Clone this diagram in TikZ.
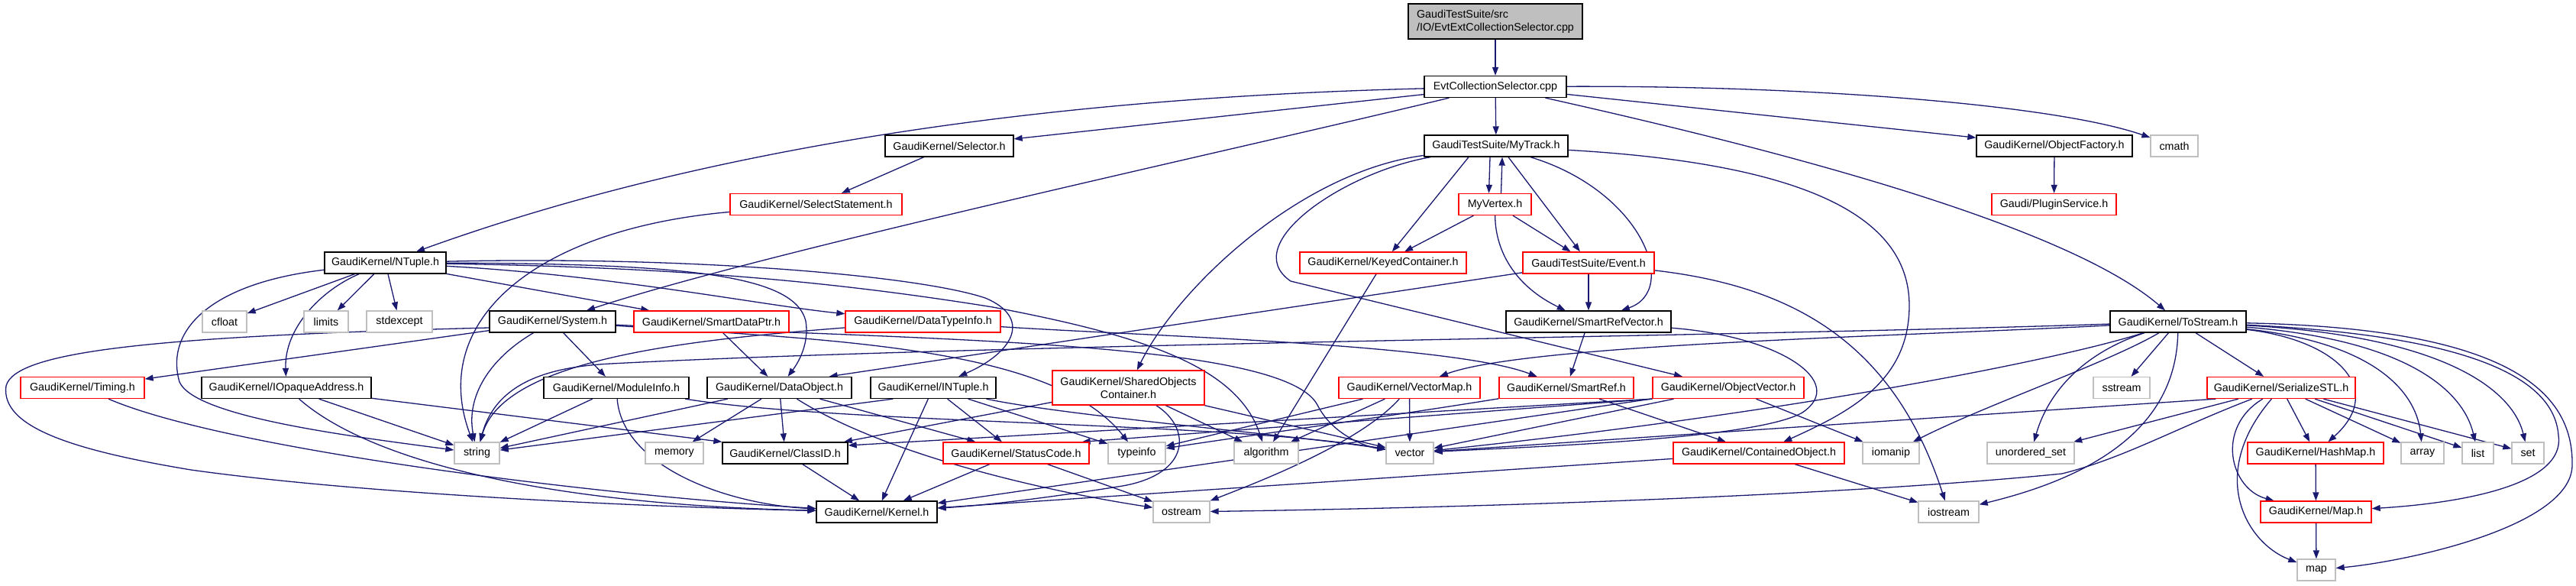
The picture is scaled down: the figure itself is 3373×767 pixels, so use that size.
\documentclass[tikz,border=0pt]{standalone}
\usepackage{fontspec}
\setmainfont{Liberation Sans}
\usetikzlibrary{arrows.meta}
\definecolor{edgeblue}{HTML}{191970}
\definecolor{nodered}{HTML}{FF0000}
\definecolor{nodegray}{HTML}{BFBFBF}
\pgfdeclarelayer{bg}
\pgfsetlayers{bg,main}
\tikzset{
  nbase/.style={rectangle, inner sep=0pt, minimum height=28pt, font=\fontsize{14.3}{17}\selectfont, line width=1.3pt, fill=white},
  nblack/.style={nbase, draw=black},
  nred/.style={nbase, draw=nodered},
  ngray/.style={nbase, draw=nodegray},
  dep/.style={draw=edgeblue, line width=1.3pt, -{Triangle[length=11pt,width=8pt]}},
}
\begin{document}
\begin{tikzpicture}[x=1pt,y=-1pt]
\useasboundingbox (0,0) rectangle (3373,767);
% ---------- nodes ----------
\node[nblack, fill=nodegray, minimum width=228pt, minimum height=46pt, align=left] (srcf) at (1958,28) {GaudiTestSuite/src\\/IO/EvtExtCollectionSelector.cpp};
\node[nblack, minimum width=186pt] (evtcol) at (1958,113.5) {EvtCollectionSelector.cpp};
\node[nblack, minimum width=168pt] (selector) at (1243,191) {GaudiKernel/Selector.h};
\node[nblack, minimum width=188pt] (mytrack) at (1959,191) {GaudiTestSuite/MyTrack.h};
\node[nblack, minimum width=204pt] (objfact) at (2690,191) {GaudiKernel/ObjectFactory.h};
\node[ngray, minimum width=62pt] (cmath) at (2847,191) {cmath};
\node[nred, minimum width=225pt] (selstmt) at (1068.5,267.5) {GaudiKernel/SelectStatement.h};
\node[nred, minimum width=95pt] (myvertex) at (1957.5,267.5) {MyVertex.h};
\node[nred, minimum width=163pt] (plugin) at (2689.5,267.5) {Gaudi/PluginService.h};
\node[nblack, minimum width=159pt] (ntuple) at (504.5,344) {GaudiKernel/NTuple.h};
\node[nred, minimum width=218pt] (keyed) at (1811,344) {GaudiKernel/KeyedContainer.h};
\node[nred, minimum width=172pt] (event) at (2080,344) {GaudiTestSuite/Event.h};
\node[ngray, minimum width=58pt] (cfloat) at (294,421) {cfloat};
\node[ngray, minimum width=58pt] (limits) at (427,421) {limits};
\node[ngray, minimum width=86pt] (stdexcept) at (523,421) {stdexcept};
\node[nblack, minimum width=165pt] (system) at (723.5,421) {GaudiKernel/System.h};
\node[nred, minimum width=203pt] (sdptr) at (931.5,421) {GaudiKernel/SmartDataPtr.h};
\node[nred, minimum width=203pt] (dtinfo) at (1208.5,421) {GaudiKernel/DataTypeInfo.h};
\node[nblack, minimum width=216pt] (srvec) at (2080,421) {GaudiKernel/SmartRefVector.h};
\node[nblack, minimum width=178pt] (tostream) at (2852,421) {GaudiKernel/ToStream.h};
\node[nred, minimum width=162pt] (timing) at (108,507.5) {GaudiKernel/Timing.h};
\node[nblack, minimum width=222pt] (iopaque) at (375,507.5) {GaudiKernel/IOpaqueAddress.h};
\node[nblack, minimum width=190pt] (modinfo) at (807,507.5) {GaudiKernel/ModuleInfo.h};
\node[nblack, minimum width=189pt] (dataobj) at (1020.5,507.5) {GaudiKernel/DataObject.h};
\node[nblack, minimum width=164pt] (intuple) at (1222,507.5) {GaudiKernel/INTuple.h};
\node[nred, minimum width=199pt, minimum height=45pt, align=center] (shared) at (1477.5,507.5) {GaudiKernel/SharedObjects\\Container.h};
\node[nred, minimum width=185pt] (vmap) at (1845.5,507.5) {GaudiKernel/VectorMap.h};
\node[nred, minimum width=176pt] (sref) at (2051,507.5) {GaudiKernel/SmartRef.h};
\node[nred, minimum width=198pt] (objvec) at (2263,507.5) {GaudiKernel/ObjectVector.h};
\node[ngray, minimum width=74pt] (sstream) at (2778,507.5) {sstream};
\node[nred, minimum width=194pt] (serial) at (2987,507.5) {GaudiKernel/SerializeSTL.h};
\node[ngray, minimum width=59pt] (nstring) at (624.5,593) {string};
\node[ngray, minimum width=76pt] (memory) at (883,593) {memory};
\node[nblack, minimum width=164pt] (classid) at (1028,593) {GaudiKernel/ClassID.h};
\node[nred, minimum width=191pt] (status) at (1330.5,593) {GaudiKernel/StatusCode.h};
\node[ngray, minimum width=75pt] (typeinfo) at (1488.5,593) {typeinfo};
\node[ngray, minimum width=84pt] (algorithm) at (1658,593) {algorithm};
\node[ngray, minimum width=62pt] (nvector) at (1846,593) {vector};
\node[nred, minimum width=224pt] (contained) at (2303,593) {GaudiKernel/ContainedObject.h};
\node[ngray, minimum width=74pt] (iomanip) at (2476,593) {iomanip};
\node[ngray, minimum width=114pt] (unordered) at (2659,593) {unordered\_set};
\node[nred, minimum width=178pt] (hashmap) at (3032,593) {GaudiKernel/HashMap.h};
\node[ngray, minimum width=56pt] (narray) at (3172,593) {array};
\node[ngray, minimum width=41pt] (nlist) at (3244.5,593) {list};
\node[ngray, minimum width=42pt] (nset) at (3310,593) {set};
\node[nblack, minimum width=158pt] (kernel) at (1148,670) {GaudiKernel/Kernel.h};
\node[ngray, minimum width=74pt] (ostream) at (1547,670) {ostream};
\node[ngray, minimum width=79pt] (iostream) at (2551.5,670) {iostream};
\node[nred, minimum width=145pt] (maph) at (3032.5,670) {GaudiKernel/Map.h};
\node[ngray, minimum width=50pt] (nmap) at (3033,746) {map};
% ---------- edges ----------
\begin{pgfonlayer}{bg}
\draw[dep] (srcf) -- (evtcol);
% EvtCollectionSelector
\draw[dep] (evtcol) .. controls (1500,125) and (1000,165) .. (ntuple);
\draw[dep] (evtcol) -- (selector);
\draw[dep] (evtcol) .. controls (1600,200) and (1000,330) .. (system);
\draw[dep] (evtcol) -- (mytrack);
\draw[dep] (evtcol) -- (objfact);
\draw[dep] (evtcol) .. controls (2400,112) and (2700,140) .. (cmath);
\draw[dep] (evtcol) .. controls (2300,190) and (2700,290) .. (tostream);
% Selector, SelectStatement, ObjectFactory
\draw[dep] (selector) -- (selstmt);
\draw[dep] (selstmt) .. controls (700,300) and (560,420) .. (nstring);
\draw[dep] (objfact) -- (plugin);
% MyTrack
\draw[dep] ([xshift=-8pt]mytrack.south) -- ([xshift=-8pt]myvertex.north);
\draw[dep] ([xshift=-36pt]mytrack.south) -- (keyed);
\draw[dep] ([xshift=16pt]mytrack.south) -- (event);
\draw[dep] ([xshift=45pt]mytrack.south) .. controls (2150,250) and (2200,380) .. (srvec);
\draw[dep] (mytrack) .. controls (1700,225) and (1540,380) .. (shared);
\draw[dep] (mytrack) .. controls (1760,225) and (1620,320) .. (1690,368) -- (objvec);
\draw[dep] (mytrack) .. controls (2380,215) and (2500,290) .. (2500,400) .. controls (2500,500) and (2420,540) .. (contained);
% MyVertex
\draw[dep] ([xshift=8pt]myvertex.north) -- ([xshift=8pt]mytrack.south);
\draw[dep] (myvertex) -- (keyed);
\draw[dep] (myvertex) -- (event);
\draw[dep] (myvertex) .. controls (1958,330) and (1985,375) .. (srvec);
% KeyedContainer, Event, SmartRefVector
\draw[dep] (keyed) -- (algorithm);
\draw[dep] (event) -- ([xshift=-30pt]dataobj.north east);
\draw[dep] (event) -- (srvec);
\draw[dep] (event) .. controls (2350,375) and (2480,450) .. (iostream);
\draw[dep] (srvec) -- (sref);
\draw[dep] (srvec) .. controls (2330,440) and (2420,500) .. (2360,540) .. controls (2300,575) and (2000,585) .. (nvector);
% NTuple
\draw[dep] (ntuple) .. controls (280,370) and (215,430) .. (235,500) .. controls (255,545) and (450,570) .. (nstring);
\draw[dep] (ntuple) .. controls (420,380) and (372,430) .. (iopaque);
\draw[dep] (ntuple) -- (cfloat);
\draw[dep] (ntuple) -- (limits);
\draw[dep] (ntuple) -- (stdexcept);
\draw[dep] (ntuple) -- (sdptr);
\draw[dep] (ntuple) .. controls (800,360) and (1000,400) .. (dtinfo);
\draw[dep] (ntuple) .. controls (900,345) and (1040,360) .. (1055,420) .. controls (1060,450) and (1045,475) .. (dataobj);
\draw[dep] (ntuple) .. controls (900,335) and (1200,360) .. (1290,390) .. controls (1350,415) and (1330,460) .. (intuple);
\draw[dep] (ntuple) .. controls (900,350) and (1100,370) .. (1300,402) .. controls (1500,440) and (1620,480) .. (algorithm);
% System
\draw[dep] ([yshift=-8pt]system.west) .. controls (200,440) and (20,460) .. (8,505) .. controls (0,560) and (100,590) .. (250,615) .. controls (500,650) and (900,665) .. (kernel);
\draw[dep] (system) -- (timing);
\draw[dep] (system) .. controls (640,470) and (610,520) .. (nstring);
\draw[dep] (system) -- (modinfo);
\draw[dep] (system) .. controls (1100,445) and (1380,455) .. (typeinfo);
\draw[dep] (system) .. controls (1200,445) and (1680,445) .. (1725,530) .. controls (1745,570) and (1790,585) .. (nvector);
% SmartDataPtr, DataTypeInfo
\draw[dep] (sdptr) -- (dataobj);
\draw[dep] (dtinfo) .. controls (900,445) and (660,470) .. (nstring);
\draw[dep] (dtinfo) .. controls (1500,440) and (1900,450) .. (sref);
% ToStream
\draw[dep] (tostream) .. controls (2300,440) and (1300,450) .. (800,476) .. controls (720,480) and (650,500) .. (nstring);
\draw[dep] (tostream) .. controls (2500,440) and (2000,450) .. (vmap);
\draw[dep] (tostream) .. controls (2700,470) and (2350,540) .. (nvector);
\draw[dep] (tostream) .. controls (2760,475) and (2600,530) .. (iomanip);
\draw[dep] (tostream) .. controls (2720,465) and (2680,520) .. (unordered);
\draw[dep] (tostream) -- (sstream);
\draw[dep] (tostream) .. controls (2850,520) and (2800,610) .. (iostream);
\draw[dep] (tostream) -- (serial);
\draw[dep] (tostream) .. controls (3060,445) and (3125,510) .. (hashmap);
\draw[dep] (tostream) .. controls (3120,450) and (3165,520) .. (narray);
\draw[dep] (tostream) .. controls (3150,445) and (3225,510) .. (nlist);
\draw[dep] (tostream) .. controls (3200,440) and (3290,510) .. (nset);
\draw[dep] (tostream) .. controls (3250,440) and (3345,500) .. (3350,570) .. controls (3360,640) and (3200,660) .. (maph);
\draw[dep] (tostream) .. controls (3300,430) and (3370,520) .. (3368,610) .. controls (3365,690) and (3150,735) .. (nmap);
% Row 6 sources
\draw[dep] (timing) .. controls (300,590) and (800,650) .. (kernel);
\draw[dep] (iopaque) .. controls (480,600) and (700,660) .. (kernel);
\draw[dep] (iopaque) -- (nstring);
\draw[dep] (iopaque) -- (classid.north west);
\draw[dep] (modinfo) -- (nstring);
\draw[dep] (modinfo) .. controls (815,610) and (950,660) .. (kernel);
\draw[dep] (modinfo) .. controls (1100,555) and (1600,552) .. (nvector);
\draw[dep] (dataobj) -- (nstring);
\draw[dep] (dataobj) -- (memory);
\draw[dep] (dataobj) -- (classid);
\draw[dep] (dataobj) -- (status);
\draw[dep] (dataobj) .. controls (1150,590) and (1350,640) .. (ostream);
\draw[dep] ([xshift=30pt]intuple.south west) -- (nstring);
\draw[dep] (intuple) -- (kernel);
\draw[dep] (intuple) -- (status);
\draw[dep] (intuple) -- (typeinfo);
\draw[dep] (intuple) .. controls (1400,545) and (1700,570) .. (nvector);
\draw[dep] (shared) -- (classid);
\draw[dep] (shared) .. controls (1560,560) and (1560,620) .. (1470,636) .. controls (1350,655) and (1280,662) .. (kernel);
\draw[dep] (shared) -- (algorithm);
\draw[dep] (shared) -- (nvector);
\draw[dep] (vmap) -- (typeinfo);
\draw[dep] (vmap) -- (algorithm);
\draw[dep] (vmap) .. controls (1780,580) and (1650,630) .. (ostream);
\draw[dep] (vmap) -- (nvector);
\draw[dep] (sref) .. controls (1800,548) and (1600,575) .. (typeinfo);
\draw[dep] (sref) -- (contained);
\draw[dep] (objvec) -- (kernel);
\draw[dep] (objvec) -- (nvector);
\draw[dep] (objvec.south west) -- ([xshift=-10pt]status.north east);
\draw[dep] (objvec.south west) -- ([yshift=10pt]classid.east);
\draw[dep] (objvec) -- (iomanip);
\draw[dep] ([xshift=12pt]serial.south west) -- (nvector);
\draw[dep] (serial) -- (unordered);
\draw[dep] (serial) .. controls (2850,560) and (2780,600) .. (2700,620) .. controls (2400,650) and (1900,665) .. (ostream);
\draw[dep] (serial) .. controls (2900,560) and (2920,640) .. (maph);
\draw[dep] (serial) .. controls (2890,620) and (2940,710) .. (nmap);
\draw[dep] (serial) -- (hashmap);
\draw[dep] (serial) -- (narray);
\draw[dep] (serial) -- (nlist);
\draw[dep] (serial) -- (nset);
% Row 7/8 sources
\draw[dep] (classid) -- (kernel);
\draw[dep] (status) -- (kernel);
\draw[dep] (status) -- (ostream);
\draw[dep] (contained) -- (kernel);
\draw[dep] (contained) -- (iostream);
\draw[dep] (hashmap) -- (maph);
\draw[dep] (maph) -- (nmap);
\end{pgfonlayer}
\end{tikzpicture}
\end{document}
